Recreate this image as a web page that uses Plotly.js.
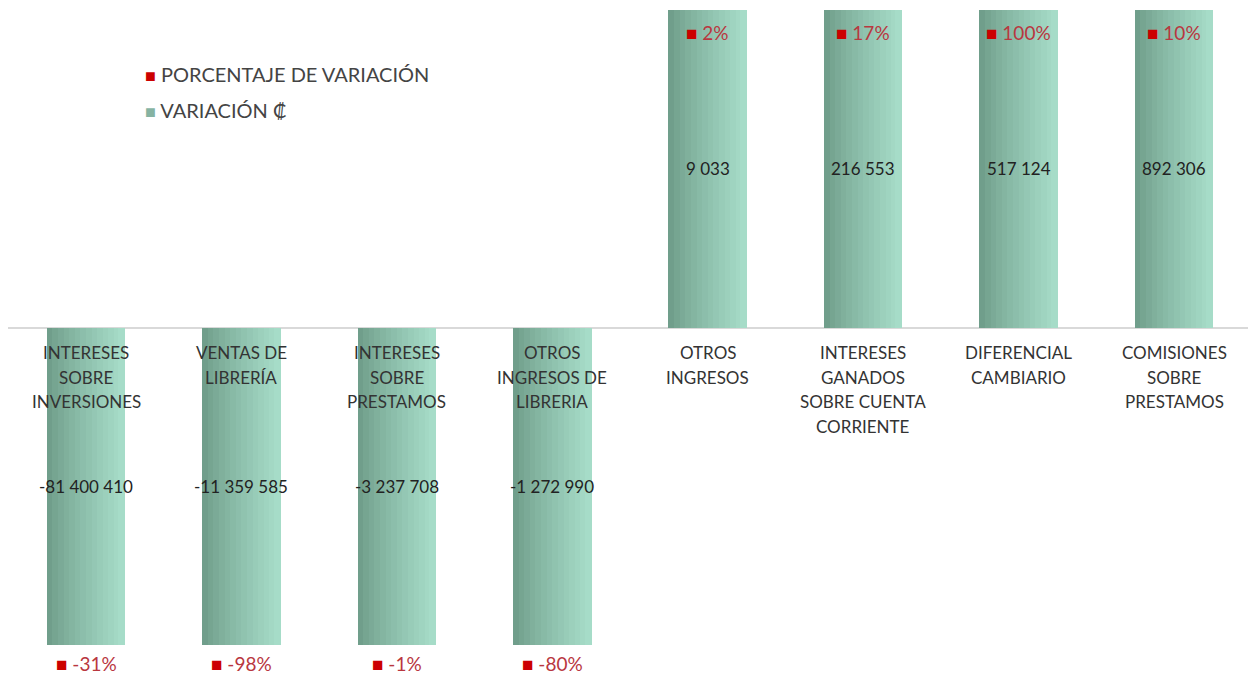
<!DOCTYPE html>
<html><head><meta charset="utf-8">
<script src="https://cdn.plot.ly/plotly-3.0.1.min.js"></script>
<style>html,body{margin:0;padding:0;background:#fff}#chart{width:1248px;height:675px}</style>
</head><body><div id="chart"></div>
<script>
// ---- data ----
const categories = [
  "INTERESES<br>SOBRE<br>INVERSIONES",
  "VENTAS DE<br>LIBRERÍA",
  "INTERESES<br>SOBRE<br>PRESTAMOS",
  "OTROS<br>INGRESOS DE<br>LIBRERIA",
  "OTROS<br>INGRESOS",
  "INTERESES<br>GANADOS<br>SOBRE CUENTA<br>CORRIENTE",
  "DIFERENCIAL<br>CAMBIARIO",
  "COMISIONES<br>SOBRE<br>PRESTAMOS"
];
const variacion = [-81400410, -11359585, -3237708, -1272990, 9033, 216553, 517124, 892306];
const porcentaje = [-31, -98, -1, -80, 2, 17, 100, 10];
const legendLabels = ["PORCENTAJE DE VARIACIÓN", "VARIACIÓN ₡"];

// ---- styling ----
const FONT = "Lato, 'Open Sans', sans-serif";
const R = 5000;            // clipped axis range: every bar runs to the edge
const W = 0.505;           // bar width in category units
const N = 14;              // gradient slices
const cL = [108, 153, 134], cR = [168, 222, 202];
function mix(t){ return 'rgb(' + cL.map((c,i)=>Math.round(c + (cR[i]-c)*Math.pow(t,0.8))).join(',') + ')'; }
function fmt(v){ const s = Math.abs(v).toString().replace(/\B(?=(\d{3})+(?!\d))/g, ' '); return (v<0?'-':'') + s; }

const idx = categories.map((c,i)=>i);
const traces = [];
for (let k=0;k<N;k++){
  traces.push({
    type:'bar', x: idx, y: variacion,
    width: idx.map(()=> W/N*1.25 ), offset: idx.map(()=> -W/2 + k*W/N - (k===N-1? W/N*0.25:0)),
    marker:{color: mix((k+0.5)/N), line:{width:0}},
    showlegend:false, hoverinfo:'skip', cliponaxis:true
  });
}

const ann = [];
idx.forEach(i=>{
  categories[i].split('<br>').forEach((line,j)=>{
    ann.push({xref:'x', yref:'y', x:i, y:0, yanchor:'middle', yshift:-(25 + 24.7*j), showarrow:false,
      text: line, font:{family:FONT, size:17, color:'#333'}, align:'center'});
  });
  ann.push({xref:'x', yref:'y', x:i, y: Math.sign(variacion[i])*R/2, showarrow:false,
    text: fmt(variacion[i]), font:{family:FONT, size:17, color:'#222'}});
  const pos = porcentaje[i] >= 0;
  ann.push({xref:'x', yref:'paper', x:i, y: pos?1:0, yanchor:'middle', yshift: pos?-22:-18, showarrow:false,
    text: "<span style='color:#cc0000;font-size:19px'>■</span> " + porcentaje[i] + "%",
    font:{family:FONT, size:19, color:'#b9373f'}});
});
ann.push({xref:'paper', yref:'paper', x:0.109, y:0.899, xanchor:'left', yanchor:'middle', showarrow:false,
  text:"<span style='color:#cc0000;font-size:18px'>■</span> " + legendLabels[0], font:{family:FONT, size:20, color:'#444'}});
ann.push({xref:'paper', yref:'paper', x:0.109, y:0.8425, xanchor:'left', yanchor:'middle', showarrow:false,
  text:"<span style='color:#86b3a2;font-size:18px'>■</span> " + legendLabels[1], font:{family:FONT, size:20, color:'#444'}});

const layout = {
  width:1248, height:675, margin:{l:8, r:0, t:10, b:30},
  paper_bgcolor:'#fff', plot_bgcolor:'#fff', barmode:'overlay', bargap:0,
  xaxis:{type:'linear', range:[-0.502, 7.476], showgrid:false, zeroline:false, showticklabels:false, ticks:'', fixedrange:true},
  yaxis:{range:[-R, R], showgrid:false, zeroline:true, zerolinecolor:'#d9d9d9', zerolinewidth:2, showticklabels:false, ticks:''},
  annotations: ann
};
Plotly.newPlot('chart', traces, layout, {staticPlot:true, displayModeBar:false});
</script></body></html>
